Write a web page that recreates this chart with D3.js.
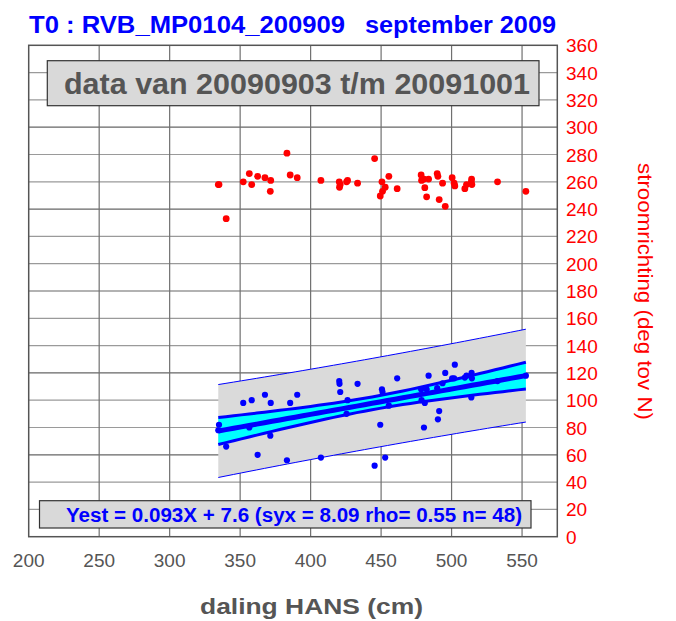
<!DOCTYPE html>
<html>
<head>
<meta charset="utf-8">
<title>RVB_MP0104_200909</title>
<script src="https://cdn.jsdelivr.net/npm/d3@7"></script>
<style>
body { margin: 0; background: #fff; }
text { font-family: "Liberation Sans", Arial, sans-serif; }
</style>
</head>
<body>
<script>
// daling HANS (cm) per meting
var daling = [335.0, 334.5, 340.1, 352.2, 358.2, 362.4, 367.6, 371.7, 371.4, 356.5,
  383.2, 385.5, 390.5, 407.3, 420.3, 420.5, 421.0, 426.2, 425.5, 433.3,
  445.4, 450.6, 451.0, 449.4, 452.9, 455.5, 461.4, 478.4, 478.7, 481.0,
  480.4, 483.7, 482.3, 489.8, 491.2, 490.3, 493.6, 495.5, 502.3, 500.4,
  509.4, 510.6, 514.2, 514.4, 514.0, 532.6, 552.7, 501.8];
// stroomrichting (deg tov N), rechter as
var richting = [258, 258, 233, 260, 258, 264, 263, 261, 253, 266,
  281, 265, 263, 261, 260, 256, 258, 261, 260, 259,
  277, 260, 253, 249.6, 256, 264, 255, 265, 261, 255.7,
  262, 262, 249, 266, 247, 264, 259, 242, 257, 263,
  255, 258, 262, 258, 260, 260, 253, 259];
// blauwe reeks (linker as, niet getoond, 0-180)
var blauw = [41, 39, 33, 49, 50, 30, 52, 49, 37, 40,
  28, 49, 52, 29, 57, 56, 53, 50, 45, 56,
  26, 54, 53, 41, 29, 48, 58, 54, 50, 49,
  40, 59, 54, 54.4, 46, 43, 56.2, 60, 63, 58,
  58.3, 59, 60, 58, 51, 57, 59, 58];

var xTicks = [200, 250, 300, 350, 400, 450, 500, 550];
var yTicks = d3.range(0, 361, 20);
var titel = "T0 : RVB_MP0104_200909";
var maand = "september 2009";
var periode = "data van 20090903 t/m 20091001";
var helling = 0.093, offset = 7.6, syx = 8.09, rho = 0.55;

var W = 676, H = 621;
var svg = d3.select("body").append("svg").attr("width", W).attr("height", H);

var L = 28.7, R = 557.3, T = 45.3, B = 536.7;
var x = d3.scaleLinear().domain([200, 575]).range([L, R]);
var yR = d3.scaleLinear().domain([0, 360]).range([B, T]);
var yL = d3.scaleLinear().domain([0, 180]).range([B, T]);

// grid
svg.selectAll(".hg").data(yTicks.filter(function(d){ return d > 0 && d < 360; }))
  .enter().append("line")
  .attr("x1", L).attr("x2", R)
  .attr("y1", function(d){ return yR(d); }).attr("y2", function(d){ return yR(d); })
  .attr("stroke", function(d){ return d % 60 == 0 ? "#666" : "#9a9a9a"; })
  .attr("stroke-width", 1.2);
svg.selectAll(".vg").data(xTicks.slice(1))
  .enter().append("line")
  .attr("y1", T).attr("y2", B)
  .attr("x1", function(d){ return x(d); }).attr("x2", function(d){ return x(d); })
  .attr("stroke", "#707070").attr("stroke-width", 1.2);

// regressie banden
var n = daling.length;
var xbar = d3.mean(daling);
var sxx = d3.sum(daling, function(d){ return (d - xbar) * (d - xbar); });
var tval = 2.013;
var xs = d3.range(d3.min(daling), d3.max(daling) + 0.01, (d3.max(daling) - d3.min(daling)) / 40);
function fit(v){ return helling * v + offset; }
function ci(v){ return tval * syx * Math.sqrt(1 / n + (v - xbar) * (v - xbar) / sxx); }
function pi(v){ return tval * syx * Math.sqrt(1 + 1 / n + (v - xbar) * (v - xbar) / sxx); }

var area = function(f){
  return d3.area().x(function(d){ return x(d); })
    .y0(function(d){ return yL(fit(d) - f(d)); })
    .y1(function(d){ return yL(fit(d) + f(d)); });
};
var line = function(s, f){
  return d3.line().x(function(d){ return x(d); })
    .y(function(d){ return yL(fit(d) + s * f(d)); });
};
var zero = function(){ return 0; };

svg.append("path").datum(xs).attr("d", area(pi)).attr("fill", "#dadada");
svg.append("path").datum(xs).attr("d", line(1, pi)).attr("fill", "none").attr("stroke", "#0000ff").attr("stroke-width", 1);
svg.append("path").datum(xs).attr("d", line(-1, pi)).attr("fill", "none").attr("stroke", "#0000ff").attr("stroke-width", 1);
svg.append("path").datum(xs).attr("d", area(ci)).attr("fill", "#00ffff");
svg.append("path").datum(xs).attr("d", line(1, ci)).attr("fill", "none").attr("stroke", "#0000ff").attr("stroke-width", 3);
svg.append("path").datum(xs).attr("d", line(-1, ci)).attr("fill", "none").attr("stroke", "#0000ff").attr("stroke-width", 3);
svg.append("path").datum(xs).attr("d", line(0, zero)).attr("fill", "none").attr("stroke", "#0000ff").attr("stroke-width", 5);

// punten
svg.selectAll(".bp").data(d3.range(n)).enter().append("circle")
  .attr("cx", function(i){ return x(daling[i]); })
  .attr("cy", function(i){ return yL(blauw[i]); })
  .attr("r", 3.1).attr("fill", "#0000ff");
svg.selectAll(".rp").data(d3.range(n)).enter().append("circle")
  .attr("cx", function(i){ return x(daling[i]); })
  .attr("cy", function(i){ return yR(richting[i]); })
  .attr("r", 3.4).attr("fill", "#ff0000");

// kader
svg.append("rect").attr("x", L).attr("y", T).attr("width", R - L).attr("height", B - T)
  .attr("fill", "none").attr("stroke", "#555").attr("stroke-width", 1.5);

// assen labels
svg.selectAll(".xl").data(xTicks).enter().append("text")
  .attr("x", function(d){ return x(d); }).attr("y", 567)
  .attr("text-anchor", "middle").attr("font-size", 19).attr("fill", "#555")
  .text(function(d){ return d; });
svg.selectAll(".yl").data(yTicks).enter().append("text")
  .attr("x", 566).attr("y", function(d){ return yR(d) + 7; })
  .attr("font-size", 19).attr("fill", "#ff0000")
  .text(function(d){ return d; });

svg.append("text").attr("x", 200).attr("y", 614)
  .attr("font-size", 22).attr("font-weight", "bold").attr("fill", "#555")
  .attr("textLength", 223).attr("lengthAdjust", "spacingAndGlyphs")
  .text("daling HANS (cm)");
svg.append("text").attr("transform", "translate(638,163) rotate(90)")
  .attr("font-size", 21).attr("fill", "#ff0000")
  .attr("textLength", 257).attr("lengthAdjust", "spacingAndGlyphs")
  .text("stroomrichting (deg tov N)");

// titel
svg.append("text").attr("x", 29).attr("y", 33).attr("font-size", 23).attr("font-weight", "bold")
  .attr("fill", "#0000ff").attr("textLength", 316).attr("lengthAdjust", "spacingAndGlyphs").text(titel);
svg.append("text").attr("x", 365).attr("y", 33).attr("font-size", 23).attr("font-weight", "bold")
  .attr("fill", "#0000ff").attr("textLength", 191).attr("lengthAdjust", "spacingAndGlyphs").text(maand);

// periode box
svg.append("rect").attr("x", 47.3).attr("y", 60.7).attr("width", 539 - 47.3).attr("height", 45)
  .attr("fill", "#d9d9d9").attr("stroke", "#333").attr("stroke-width", 1.2);
svg.append("text").attr("x", 64).attr("y", 94).attr("font-size", 29).attr("font-weight", "bold")
  .attr("fill", "#555").attr("textLength", 466).attr("lengthAdjust", "spacingAndGlyphs").text(periode);

// vergelijking box
svg.append("rect").attr("x", 39.5).attr("y", 500.7).attr("width", 531 - 39.5).attr("height", 27.3)
  .attr("fill", "#d9d9d9").attr("stroke", "#333").attr("stroke-width", 1.2);
svg.append("text").attr("x", 66).attr("y", 521.5).attr("font-size", 20).attr("font-weight", "bold")
  .attr("fill", "#0000ff").attr("textLength", 456).attr("lengthAdjust", "spacingAndGlyphs")
  .text("Yest = " + helling + "X + " + offset + " (syx = " + syx + " rho= " + rho + " n= " + n + ")");
</script>
</body>
</html>
